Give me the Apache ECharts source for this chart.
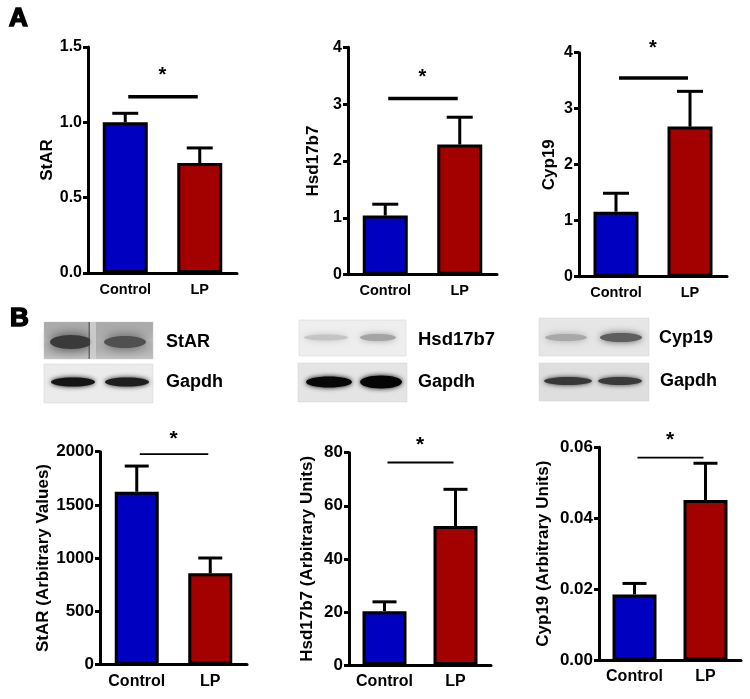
<!DOCTYPE html>
<html>
<head>
<meta charset="utf-8">
<script src="https://cdn.jsdelivr.net/npm/echarts@6/dist/echarts.min.js"></script>
<style>html,body{margin:0;padding:0;background:#fff}#c{width:750px;height:699px}</style>
</head>
<body>
<div id="c"></div>
<script>
// ---------- DATA ----------
const categories = ['Control', 'LP'];

// Panel A (mRNA)
const aStarMean = [1.00, 0.73];
const aStarErr  = [0.06, 0.10];
const aHsdMean  = [1.04, 2.29];
const aHsdErr   = [0.20, 0.48];
const aCypMean  = [1.16, 2.68];
const aCypErr   = [0.33, 0.63];

// Panel B (protein quantification)
const bStarMean = [1623, 856];
const bStarErr  = [242, 144];
const bHsdMean  = [20.3, 52.4];
const bHsdErr   = [3.5, 13.8];
const bCypMean  = [0.0185, 0.0451];
const bCypErr   = [0.0031, 0.0104];

// Significance bar levels (data units)
const sigLevels = [1.17, 3.10, 3.55, 1978, 76.3, 0.0571];

// Axis ranges [min, max, interval]
const axisRanges = [[0, 1.5, 0.5], [0, 4, 1], [0, 4, 1], [0, 2000, 500], [0, 80, 20], [0, 0.06, 0.02]];
const axisDecimals = [1, 0, 0, 0, 0, 2];
const yNames = ['StAR', 'Hsd17b7', 'Cyp19', 'StAR (Arbitrary Values)', 'Hsd17b7 (Arbitrary Units)', 'Cyp19 (Arbitrary Units)'];
const blotLabels = [['StAR', 'Gapdh'], ['Hsd17b7', 'Gapdh'], ['Cyp19', 'Gapdh']];

const means = [aStarMean, aHsdMean, aCypMean, bStarMean, bHsdMean, bCypMean];
const errs  = [aStarErr, aHsdErr, aCypErr, bStarErr, bHsdErr, bCypErr];

// ---------- LAYOUT / STYLE ----------
const FONT = 'Liberation Sans, Arial, sans-serif';
const BLUE = '#0000c0';
const RED = '#a30000';
const grids = [
  {left: 88,  top: 47,    width: 149, height: 226},
  {left: 348, top: 47.3,  width: 149, height: 227.4},
  {left: 579, top: 52.7,  width: 148, height: 224},
  {left: 100, top: 451.7, width: 147, height: 212.6},
  {left: 349, top: 452.7, width: 142, height: 212.3},
  {left: 599, top: 447.3, width: 142, height: 212.7}
];
const nameGaps = [30, 26, 21, 47, 33, 47];
const starOffsets = [25, 25, 33, 19, 21, 21];

const chart = echarts.init(document.getElementById('c'), null, {renderer: 'canvas'});

const xAxes = [], yAxes = [], series = [];
grids.forEach((g, i) => {
  const isA = i < 3;
  xAxes.push({
    type: 'category', gridIndex: i, data: categories,
    axisLine: {lineStyle: {color: '#000', width: 3}},
    axisTick: {alignWithLabel: true, length: 6, lineStyle: {color: '#000', width: 3}},
    axisLabel: {interval: 0, color: '#000', fontWeight: 'bold', fontFamily: FONT, fontSize: isA ? 14.5 : 16, margin: 9}
  });
  const r = axisRanges[i];
  yAxes.push({
    type: 'value', gridIndex: i, min: r[0], max: r[1], interval: r[2],
    name: yNames[i], nameLocation: 'middle', nameGap: nameGaps[i], nameRotate: 90,
    nameTextStyle: {color: '#000', fontWeight: 'bold', fontFamily: FONT, fontSize: 17},
    splitLine: {show: false},
    axisLine: {show: true, lineStyle: {color: '#000', width: 3}},
    axisTick: {show: true, length: 5, lineStyle: {color: '#000', width: 3}},
    axisLabel: {color: '#000', fontWeight: 'bold', fontFamily: FONT, fontSize: isA ? 16 : 17, margin: 6,
      formatter: v => v.toFixed(axisDecimals[i])}
  });
  series.push({
    type: 'bar', xAxisIndex: i, yAxisIndex: i, barWidth: isA ? 45 : 44,
    data: means[i].map((m, k) => ({value: m, itemStyle: {color: k === 0 ? BLUE : RED}})),
    itemStyle: {borderColor: '#000', borderWidth: 3},
    z: 2
  });
  series.push({
    type: 'custom', xAxisIndex: i, yAxisIndex: i, z: 3,
    data: means[i].map((m, k) => [k, m, errs[i][k]]),
    renderItem: (params, api) => {
      const c = api.value(0), m = api.value(1), e = api.value(2);
      const p0 = api.coord([c, m]);
      const p1 = api.coord([c, m + e]);
      const hw = isA ? 13 : 12;
      return {type: 'group', children: [
        {type: 'line', shape: {x1: p0[0], y1: p0[1], x2: p1[0], y2: p1[1]}, style: {stroke: '#000', lineWidth: 3}},
        {type: 'line', shape: {x1: p1[0] - hw, y1: p1[1], x2: p1[0] + hw, y2: p1[1]}, style: {stroke: '#000', lineWidth: 3}}
      ]};
    }
  });
  series.push({
    type: 'custom', xAxisIndex: i, yAxisIndex: i, z: 3,
    data: [[0, sigLevels[i]]],
    renderItem: (params, api) => {
      const lv = api.value(1);
      const a = api.coord([0, lv]);
      const b = api.coord([1, lv]);
      return {type: 'group', children: [
        {type: 'line', shape: {x1: a[0] + 3, y1: a[1], x2: b[0] - 2, y2: b[1]}, style: {stroke: '#000', lineWidth: isA ? 3.5 : 1.8}},
        {type: 'text', style: {text: '*', x: (a[0] + b[0]) / 2, y: a[1] - starOffsets[i] + 4, align: 'center', verticalAlign: 'middle',
          fill: '#000', font: 'bold ' + (isA ? 20 : 21) + 'px ' + FONT}}
      ]};
    }
  });
});

// ---------- Western blot images (decorative) ----------
function band(cx, cy, rx, ry, color, blur) {
  return {type: 'ellipse', shape: {cx: cx, cy: cy, rx: rx, ry: ry},
    style: {fill: color, shadowBlur: blur, shadowColor: color}, silent: true};
}
function panel(x, y, w, h, bg) {
  return {type: 'rect', shape: {x: x, y: y, width: w, height: h}, style: {fill: bg, stroke: '#d0d0d0', lineWidth: 0.5}, silent: true};
}
function txt(x, y, t, size) {
  return {type: 'text', style: {text: t, x: x, y: y, verticalAlign: 'middle', align: 'left', fill: '#000', font: 'bold ' + size + 'px ' + FONT}, silent: true};
}

const graphics = [
  // panel letters
  {type: 'text', style: {text: 'A', x: 9, y: 19, verticalAlign: 'middle', fill: '#000', font: 'bold 26px ' + FONT, stroke: '#000', lineWidth: 1.6}},
  {type: 'text', style: {text: 'B', x: 10, y: 319, verticalAlign: 'middle', fill: '#000', font: 'bold 26px ' + FONT, stroke: '#000', lineWidth: 1.6}},

  // StAR blot
  panel(44, 322, 109, 37, '#bdbdbd'),
  {type: 'rect', shape: {x: 44, y: 322, width: 109, height: 37}, style: {fill: {type: 'linear', x: 0, y: 0, x2: 0, y2: 1,
    colorStops: [{offset: 0, color: 'rgba(160,160,160,0.6)'}, {offset: 0.5, color: 'rgba(120,120,120,0.0)'}, {offset: 1, color: 'rgba(200,200,200,0.5)'}]}}, silent: true},
  band(71, 342, 21, 7, '#3a3a3a', 12),
  band(125, 342, 21, 6, '#505050', 12),
  {type: 'rect', shape: {x: 90, y: 322, width: 6, height: 37}, style: {fill: '#d2d2d2', opacity: 0.8}, silent: true},
  {type: 'rect', shape: {x: 88.5, y: 322, width: 1.5, height: 37}, style: {fill: '#3a3a3a', opacity: 0.6}, silent: true},
  panel(44, 364, 109, 39, '#ebebeb'),
  band(73, 382, 22, 4.5, '#151515', 5),
  band(127, 382, 22, 4.5, '#1e1e1e', 5),
  txt(166, 342, blotLabels[0][0], 18),
  txt(166, 382, blotLabels[0][1], 18),

  // Hsd17b7 blot
  panel(299, 320, 107, 36, '#eeeeee'),
  band(326, 337.5, 22, 3, '#c4c4c4', 6),
  band(378, 337.5, 18, 3.5, '#a4a4a4', 6),
  panel(298, 363, 109, 39, '#e4e4e4'),
  band(329, 382, 23, 5.5, '#080808', 5),
  band(381, 382, 21, 6.5, '#050505', 5),
  txt(418, 340, blotLabels[1][0], 18.5),
  txt(418, 382, blotLabels[1][1], 18),

  // Cyp19 blot
  panel(539, 318, 110, 38, '#e6e6e6'),
  band(566, 337.5, 21, 3.5, '#a8a8a8', 7),
  band(621, 337.5, 21, 4.5, '#5e5e5e', 7),
  panel(539, 363, 110, 38, '#dedede'),
  band(568, 381, 24, 4, '#383838', 5),
  band(620, 381, 22, 4, '#3a3a3a', 5),
  txt(659, 338, blotLabels[2][0], 18),
  txt(660, 381, blotLabels[2][1], 18)
];

chart.setOption({
  animation: false,
  backgroundColor: '#fff',
  grid: grids.map(g => Object.assign({containLabel: false}, g)),
  xAxis: xAxes,
  yAxis: yAxes,
  series: series,
  graphic: graphics
});
</script>
</body>
</html>
